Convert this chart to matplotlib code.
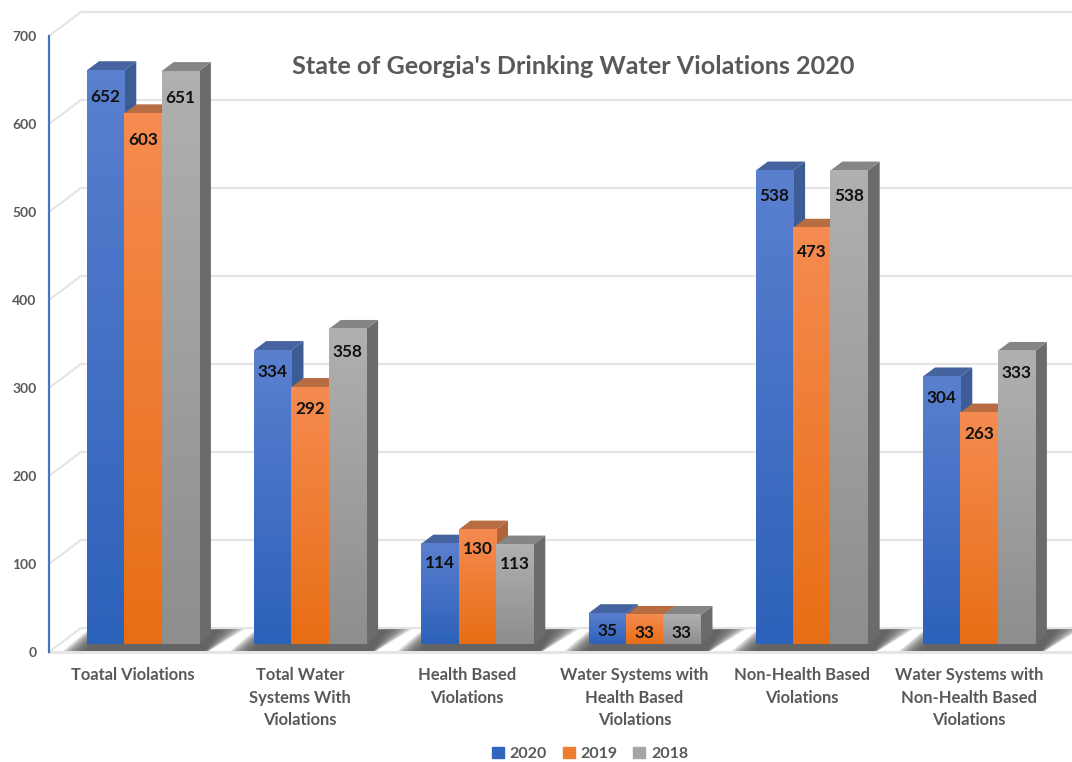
import numpy as np
import matplotlib
matplotlib.use('Agg')
import matplotlib.pyplot as plt
from matplotlib.colors import LinearSegmentedColormap
from matplotlib.patches import Polygon, Patch

# Chart values
categories = ['Toatal Violations', 'Total Water\nSystems With\nViolations', 'Health Based\nViolations',
              'Water Systems with\nHealth Based\nViolations', 'Non-Health Based\nViolations',
              'Water Systems with\nNon-Health Based\nViolations']
years = ['2020', '2019', '2018']
values_2020 = [652, 334, 114, 35, 538, 304]
values_2019 = [603, 292, 130, 33, 473, 263]
values_2018 = [651, 358, 113, 33, 538, 333]
y_ticks = [0, 100, 200, 300, 400, 500, 600, 700]

title = "State of Georgia's Drinking Water Violations 2020"

plt.rcParams['font.family'] = ['Lato', 'DejaVu Sans']

# Colours per series: legend, gradient top, gradient bottom, side, top face
styles = [
    ('#3066be', '#5a7fcf', '#2d62ba', '#3d5b94', '#45639e'),
    ('#ed7d31', '#f58b50', '#e86e15', '#b0643a', '#b86c42'),
    ('#a5a5a5', '#b0b0b0', '#8e8e8e', '#6b6b6b', '#858585'),
]
text_gray = '#595959'
grid_gray = '#e4e4e4'

W, H = 1072, 762
PX_PER_GROUP = 167.2
PX_PER_UNIT = 0.88
PX_FLOOR_Y = 652

fig = plt.figure(figsize=(W / 100, H / 100), dpi=100)
ymax = 740
x_min = -0.502
x_max = x_min + (W - 49) / PX_PER_GROUP
ax = fig.add_axes([49 / W, (H - PX_FLOOR_Y) / H, 1 - 49 / W, ymax * PX_PER_UNIT / H])


def px_x(p):
    return p / PX_PER_GROUP


def px_y(p):
    return p / PX_PER_UNIT


# Back wall, left wall and floor
wall_dx, wall_dy = px_x(32), px_y(24)
for t in y_ticks:
    ax.plot([x_min, x_min + wall_dx, x_max], [t, t + wall_dy, t + wall_dy],
            color=grid_gray, lw=1.5, zorder=1, clip_on=False)
ax.plot([x_min, x_max], [0, 0], color=grid_gray, lw=2, zorder=1, clip_on=False)

# Bars
bar_w = px_x(37.3)
base = px_y(8)
shift = px_x(10)
side_dx, side_dy = px_x(12), px_y(9)
series = [values_2020, values_2019, values_2018]
x = np.arange(len(categories))

# Soft shadow on the floor under each group
for xi in x:
    left = xi + shift - 1.5 * bar_w
    right = xi + shift + 1.5 * bar_w
    n = 14
    for k in range(n):
        g = k / (n - 1)
        pts = [(left - px_x(24 - 22 * g), px_y(1)),
               (right + px_x(10 - 4 * g), px_y(1)),
               (right + side_dx + px_x(34 - 26 * g), px_y(23)),
               (left + side_dx - px_x(10 - 8 * g), px_y(23 - 10 * g))]
        ax.add_patch(Polygon(pts, closed=True, color='#555555', alpha=0.15, lw=0, zorder=2))

for s, (vals, st) in enumerate(zip(series, styles)):
    xs = x + shift + (s - 1) * bar_w
    z = 3 + s
    bars = ax.bar(xs, vals, bar_w, bottom=base, color=st[1], lw=0, zorder=z)
    cmap = LinearSegmentedColormap.from_list('g', [st[1], st[2]])
    for b, v in zip(bars, vals):
        l, r = b.get_x(), b.get_x() + b.get_width()
        top = base + v
        # right side and top face of the 3D box
        ax.add_patch(Polygon([(r, base), (r + side_dx, base + side_dy), (r + side_dx, top + side_dy), (r, top)],
                             closed=True, color=st[3], lw=0, zorder=z))
        ax.add_patch(Polygon([(l, top), (l + side_dx, top + side_dy), (r + side_dx, top + side_dy), (r, top)],
                             closed=True, color=st[4], lw=0, zorder=z))
        ax.imshow(np.linspace(0, 1, 64).reshape(-1, 1), extent=(l, r, base, top), origin='upper',
                  aspect='auto', cmap=cmap, zorder=z + 0.1)
        # label sits a little further down on the tall bars
        ax.text(l + bar_w / 2, top - px_y(17.5 + 0.0145 * v), str(v), ha='center', va='center',
                fontsize=12.3, fontweight='bold', color='#111111', zorder=10)

ax.set_xlim(x_min, x_max)
ax.set_ylim(0, ymax)

# Axes
for name in ['top', 'right', 'bottom']:
    ax.spines[name].set_visible(False)
ax.patch.set_alpha(0)
ax.spines['left'].set_bounds(0, 700)
ax.spines['left'].set_color('#4472c4')
ax.spines['left'].set_linewidth(1.6)
ax.set_yticks(y_ticks)
ax.set_xticks(x)
ax.set_xticklabels(categories, linespacing=1.48)
ax.tick_params(axis='y', length=0, pad=9, labelsize=10, labelcolor=text_gray)
ax.tick_params(axis='x', length=0, pad=11, labelsize=11.9, labelcolor=text_gray)
for lab in ax.get_yticklabels():
    lab.set_fontweight('bold')
for lab in ax.get_xticklabels():
    lab.set_fontweight('bold')
    lab.set_verticalalignment('top')

fig.text(573 / W, 1 - 67 / H, title, ha='center', va='center', fontsize=18.1,
         fontweight='bold', color=text_gray)

handles = [Patch(color=st[0], label=y) for st, y in zip(styles, years)]
leg = fig.legend(handles=handles, loc='center', bbox_to_anchor=(590 / W, 1 - 754 / H), ncol=3, frameon=False,
                 fontsize=11.5, handlelength=0.75, handleheight=0.75, handletextpad=0.35, columnspacing=1.0,
                 labelcolor=text_gray)
for t in leg.get_texts():
    t.set_fontweight('bold')

fig.savefig('out.png', dpi=100, facecolor='white')
